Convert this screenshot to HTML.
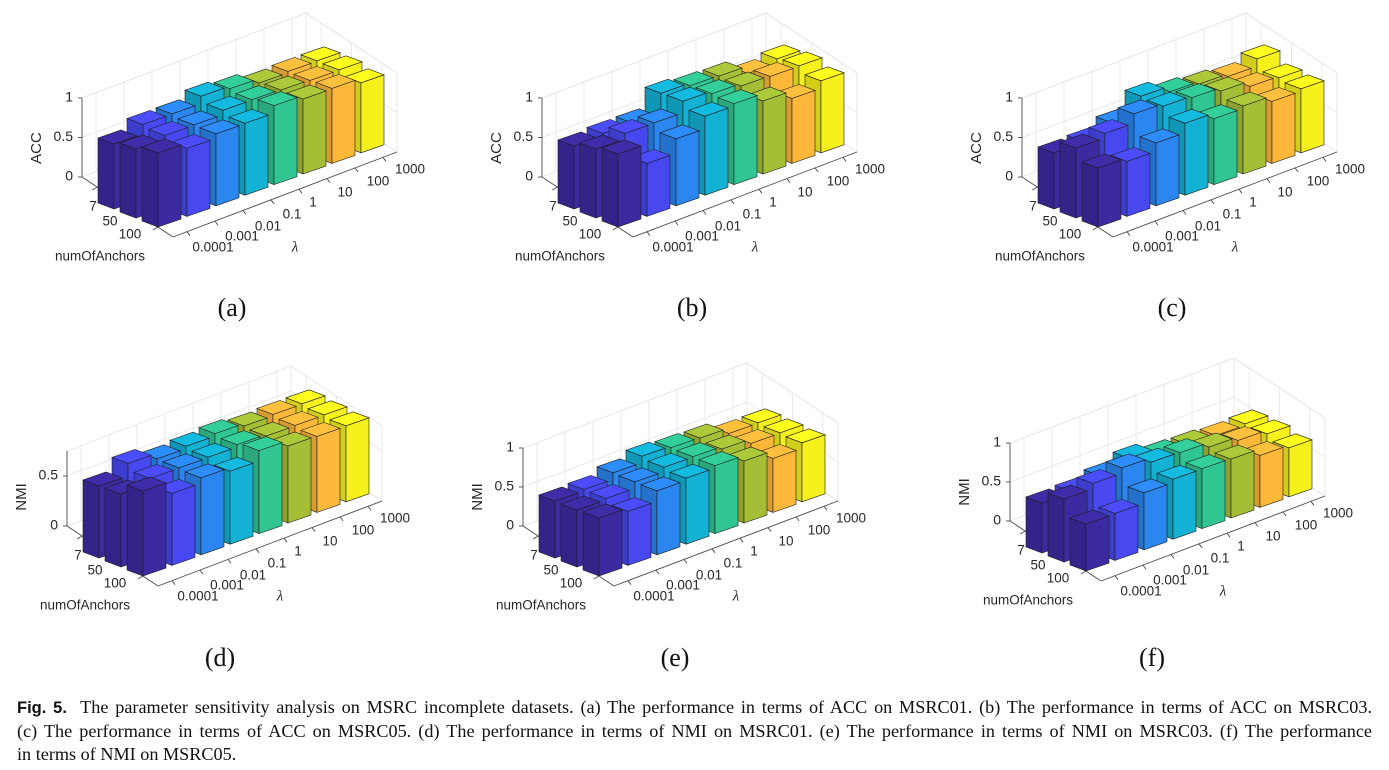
<!DOCTYPE html>
<html><head><meta charset="utf-8">
<style>
html,body{margin:0;padding:0;background:#fff;}
body{width:1389px;height:770px;overflow:hidden;position:relative;}
svg{position:absolute;left:0;top:0;}
.cap{position:absolute;left:17px;width:1355px;font-family:"Liberation Serif",serif;font-size:18.2px;color:#111;text-align:justify;text-align-last:justify;white-space:nowrap;}
.cap.last{text-align-last:left;}
</style></head><body>
<svg id="s" width="1389" height="770" xmlns="http://www.w3.org/2000/svg"></svg>
<div class="cap" style="top:697px"><b style="font-family:'Liberation Sans',sans-serif;font-size:16.5px">Fig. 5.</b>&nbsp; The parameter sensitivity analysis on MSRC incomplete datasets. (a) The performance in terms of ACC on MSRC01. (b) The performance in terms of ACC on MSRC03.</div>
<div class="cap" style="top:721px">(c) The performance in terms of ACC on MSRC05. (d) The performance in terms of NMI on MSRC01. (e) The performance in terms of NMI on MSRC03. (f) The performance</div>
<div class="cap last" style="top:744px">in terms of NMI on MSRC05.</div>
<script>
const S=document.getElementById('s');let out='';
const cols=['#3b2aa0','#4748ef','#2b86f0','#13b2d5','#31c592','#a4bf36','#fdb83a','#f6f11c'];
function sh(c,f){let r=parseInt(c.substr(1,2),16),g=parseInt(c.substr(3,2),16),b=parseInt(c.substr(5,2),16);
r=Math.min(255,Math.round(r*f));g=Math.min(255,Math.round(g*f));b=Math.min(255,Math.round(b*f));return `rgb(${r},${g},${b})`;}
function poly(pts,fill,stroke,sw){return `<polygon points="${pts.map(p=>p[0].toFixed(1)+','+p[1].toFixed(1)).join(' ')}" fill="${fill}" stroke="${stroke}" stroke-width="${sw}"/>`;}
function line(a,b,c,w){return `<line x1="${a[0].toFixed(1)}" y1="${a[1].toFixed(1)}" x2="${b[0].toFixed(1)}" y2="${b[1].toFixed(1)}" stroke="${c}" stroke-width="${w}"/>`;}
function txt(x,y,t,anc,sz,extra){return `<text x="${x}" y="${y}" text-anchor="${anc||'middle'}" font-family="Liberation Sans,sans-serif" font-size="${sz||13.5}" fill="#262626" dominant-baseline="middle" ${extra||''}>${t}</text>`;}
const panels=[
 {P:[142,221],lab:'ACC',H:79,ticks:[[0,'0'],[0.5,'0.5'],[1,'1']],sc:79,cap:'(a)',cp:[232,310],
  h:[[65,74,74,81,78,73,74,74],[69,72,72,76,76,75,74,74],[74,68,72,72,79,75,75,70]]},
 {P:[602,221],lab:'ACC',H:79,ticks:[[0,'0'],[0.5,'0.5'],[1,'1']],sc:79,cap:'(b)',cp:[692,310],
  h:[[63,65,65,84,81,80,72,76],[69,74,74,85,82,79,78,78],[73,53,67,79,81,73,65,72]]},
 {P:[1082,221],lab:'ACC',H:79,ticks:[[0,'0'],[0.5,'0.5'],[1,'1']],sc:79,cap:'(c)',cp:[1172,310],
  h:[[56,57,65,81,75,72,69,76],[70,74,83,80,78,74,68,66],[59,55,63,72,66,68,62,64]]},
 {P:[127,570],lab:'NMI',H:75,ticks:[[0,'0'],[0.5,'0.5']],sc:100,cap:'(d)',cp:[220,660],
  h:[[72,84,78,80,82,79,80,80],[73,78,78,78,80,78,78,78],[85,72,77,73,83,77,76,76]]},
 {P:[583,570],lab:'NMI',H:78,ticks:[[0,'0'],[0.5,'0.5'],[1,'1']],sc:78,cap:'(e)',cp:[675,660],
  h:[[57,58,64,70,68,67,61,61],[57,58,64,68,68,65,60,60],[58,54,64,66,68,62,54,59]]},
 {P:[1070,565],lab:'NMI',H:78,ticks:[[0,'0'],[0.5,'0.5'],[1,'1']],sc:78,cap:'(f)',cp:[1152,660],
  h:[[50,51,56,63,57,56,54,55],[63,68,73,68,67,62,58,54],[47,47,57,60,60,59,52,49]]},
];
const A=[91,60],L=[224,-85],a=[22,9],l=[29,-10.6],wa=[16,6],wl=[23,-8];
const add=(p,q,k=1)=>[p[0]+q[0]*k,p[1]+q[1]*k];
const up=(p,h)=>[p[0],p[1]-h];
const lam=['0.0001','0.001','0.01','0.1','1','10','100','1000'];
const lamPos=[[71,27],[100,16],[126,6],[150,-6],[171,-18],[203,-28],[236,-39],[268,-51]];
for(const pn of panels){
 const P=pn.P, Z0=[P[0]-60,P[1]-44], H=pn.H;
 const BR=add(Z0,L), FR=add(BR,A), FL=add(Z0,A);
 const g='#e4e4e4';
 out+=line(Z0,up(Z0,H),g,0.8);out+=line(BR,up(BR,H),g,0.8);
 for(let k=0;k<8;k++){const p=add(Z0,L,(k+0.5)/8);out+=line(p,up(p,H),g,0.8);}
 for(let k=0;k<3;k++){const p=add(BR,A,(k+0.5)/3);out+=line(p,up(p,H),g,0.8);}
 out+=line(FR,up(FR,H),g,0.8);
 for(const [v] of pn.ticks){const hh=Math.min(v*pn.sc,H);
  out+=line(up(Z0,hh),up(BR,hh),g,0.8);out+=line(up(BR,hh),up(FR,hh),g,0.8);}
 out+=line(up(Z0,H),up(BR,H),g,0.8);out+=line(up(BR,H),up(FR,H),g,0.8);
 const ax='#4a4a4a';
 out+=line(Z0,up(Z0,H),ax,0.9);
 out+=line(Z0,FL,ax,0.9);out+=line(FL,FR,ax,0.9);
 for(const [v,t] of pn.ticks){const p=up(Z0,v*pn.sc);out+=line(p,[p[0]-4,p[1]],ax,0.9);
  out+=txt(p[0]-9,p[1],t,'end',14);}
 for(let k=0;k<3;k++){const p=add(Z0,A,(k+0.5)/3);out+=line(p,[p[0]-5,p[1]+3],ax,0.9);}
 for(let k=0;k<8;k++){const p=add(FL,L,(k+0.5)/8);out+=line(p,[p[0]+3,p[1]+4],ax,0.9);}
 out+=txt(P[0]-105,P[1]-73,pn.lab,'middle',15,`transform="rotate(-90 ${P[0]-105} ${P[1]-73})"`);
 out+=txt(P[0]-49,P[1]-14,'7');out+=txt(P[0]-32,P[1]+1,'50');out+=txt(P[0]-12,P[1]+14,'100');
 out+=txt(P[0]-42,P[1]+36,'numOfAnchors');
 lam.forEach((t,k)=>{out+=txt(P[0]+lamPos[k][0],P[1]+lamPos[k][1],t);});
 out+=`<text x="${P[0]+153}" y="${P[1]+27}" text-anchor="middle" dominant-baseline="middle" font-family="Liberation Serif,serif" font-style="italic" font-size="15" fill="#262626">λ</text>`;
 for(let i=0;i<3;i++)for(let j=7;j>=0;j--){
  const BL=add(add(P,a,i-2),l,j), F=add(BL,wa), R=add(F,wl), B=add(BL,wl), h=pn.h[i][j], c=cols[j];
  out+=poly([BL,F,up(F,h),up(BL,h)],sh(c,0.85),'#1e1e1e',0.6);
  out+=poly([F,R,up(R,h),up(F,h)],c,'#1e1e1e',0.6);
  out+=poly([up(BL,h),up(F,h),up(R,h),up(B,h)],sh(c,1.05),'#1e1e1e',0.6);
 }
 out+=`<text x="${pn.cp[0]}" y="${pn.cp[1]}" text-anchor="middle" dominant-baseline="middle" font-family="Liberation Serif,serif" font-size="26" fill="#111">${pn.cap}</text>`;
}
S.innerHTML=out;
</script>
</body></html>
